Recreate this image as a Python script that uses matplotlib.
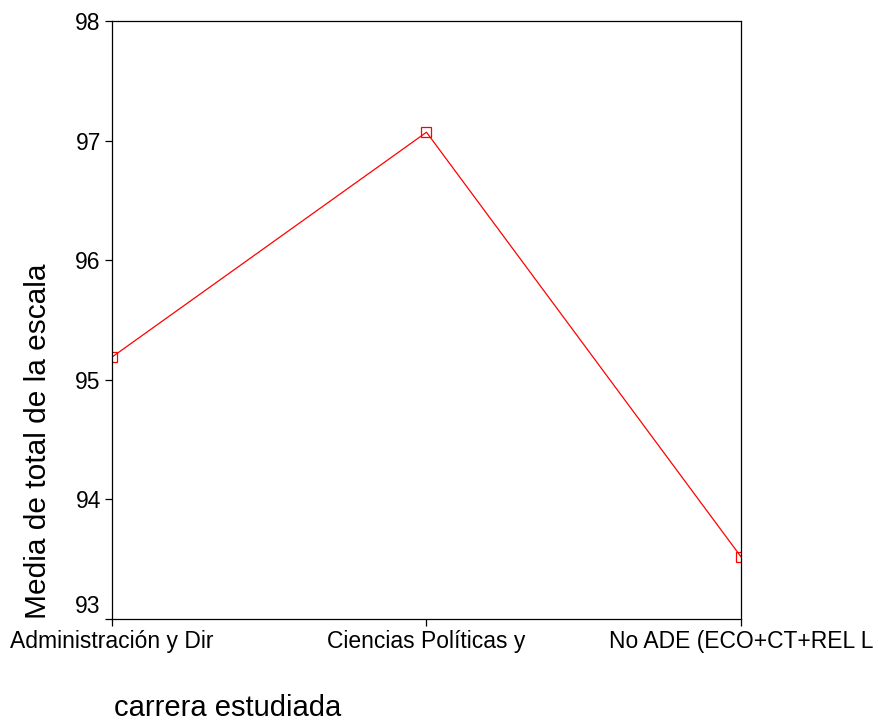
import matplotlib.pyplot as plt
import matplotlib.transforms as mtransforms

plt.rcParams['font.family'] = ['Liberation Sans', 'DejaVu Sans']

carreras = ["Administración y Dir", "Ciencias Políticas y", "No ADE (ECO+CT+REL L"]
medias = [95.19, 97.07, 93.52]
y_ticks = [93, 94, 95, 96, 97, 98]

fig = plt.figure(figsize=(8.79, 7.24), dpi=100)
ax = fig.add_axes([0.1274, 0.145, 0.7156, 0.826])

x = list(range(len(carreras)))
ax.plot(x, medias, color="red", linewidth=0.9, marker="s", markersize=7,
        markerfacecolor="none", markeredgecolor="red", markeredgewidth=0.9,
        clip_on=True)

ax.set_xlim(0, len(carreras) - 1)
ax.set_ylim(93, 98)
ax.set_xticks(x)
ax.set_xticklabels(carreras, fontsize=16.5)
ax.set_yticks(y_ticks)
ax.set_yticklabels([str(t) for t in y_ticks], fontsize=16.5)
ax.tick_params(direction="out", length=5, width=0.9, pad=3)

for s in ax.spines.values():
    s.set_linewidth(0.9)

# SPSS sube un poco la etiqueta del 93
lbl93 = ax.get_yticklabels()[0]
lbl93.set_transform(lbl93.get_transform() + mtransforms.ScaledTranslation(0, 15 / 100, fig.dpi_scale_trans))

fig.text(38 / 879, 1 - 441 / 724, "Media de total de la escala", rotation=90,
         fontsize=21.5, ha="center", va="center")
fig.text(114 / 879, 1 - 708 / 724, "carrera estudiada", fontsize=21,
         ha="left", va="center")

fig.savefig("out.png", dpi=100)
